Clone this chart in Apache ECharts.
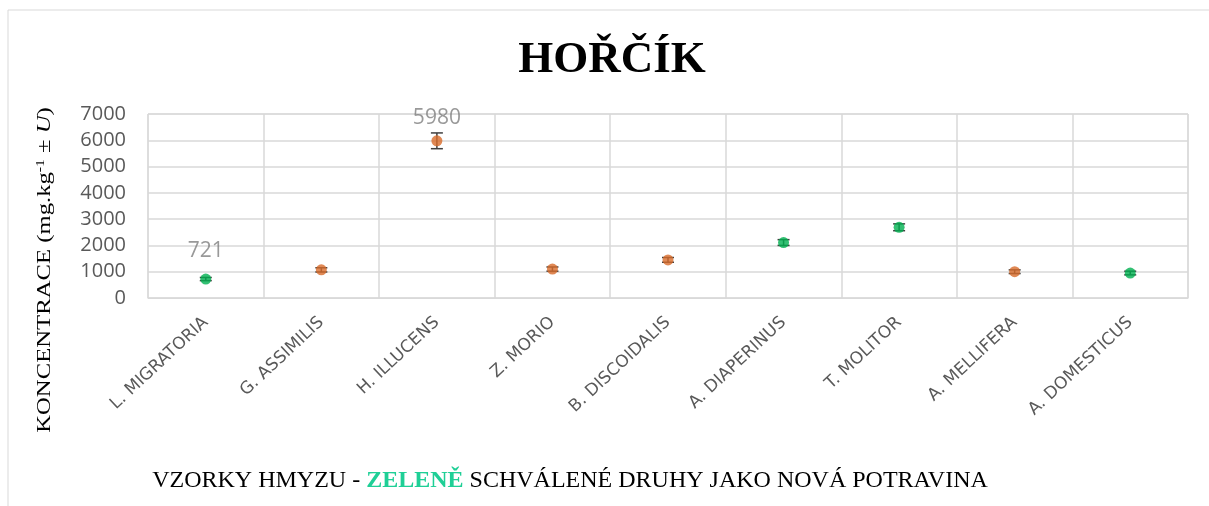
<!DOCTYPE html>
<html>
<head>
<meta charset="utf-8">
<script src="https://cdn.jsdelivr.net/npm/echarts@6/dist/echarts.min.js"></script>
<style>
  html, body { margin: 0; padding: 0; background: #fff; }
  #chart { width: 1209px; height: 506px; }
</style>
</head>
<body>
<div id="chart"></div>
<script>
// hodnoty
const categories = ["L. MIGRATORIA", "G. ASSIMILIS", "H. ILLUCENS", "Z. MORIO", "B. DISCOIDALIS",
  "A. DIAPERINUS", "T. MOLITOR", "A. MELLIFERA", "A. DOMESTICUS"];
const values = [721, 1070, 5980, 1100, 1450, 2110, 2690, 1000, 950];
const uncertainty = [60, 80, 300, 80, 90, 110, 130, 70, 70];
const approved = [true, false, false, false, false, true, true, false, true];
const labelled = [true, false, true, false, false, false, false, false, false];
const yTicks = [0, 1000, 2000, 3000, 4000, 5000, 6000, 7000];

const GREEN = "#00b050";
const ORANGE = "#d86c2a";
const SERIF = "'Liberation Serif', 'Times New Roman', serif";

const chart = echarts.init(document.getElementById("chart"));

const points = values.map((v, i) => ({
  value: [i, v],
  itemStyle: { color: approved[i] ? GREEN : ORANGE },
  label: {
    show: labelled[i],
    position: "top",
    distance: uncertainty[i] > 200 ? 7 : 12,
    color: "#7f7f7f",
    fontSize: 21,
    fontFamily: "Open Sans",
    formatter: String(v),
  },
}));

const bars = values.map((v, i) => [i, v - uncertainty[i], v + uncertainty[i]]);

chart.setOption({
  animation: false,
  grid: { left: 148, right: 21, top: 114, bottom: 208, show: true, borderColor: "#d9d9d9", borderWidth: 1 },
  xAxis: {
    type: "category",
    data: categories,
    boundaryGap: true,
    axisTick: { show: false },
    axisLine: { lineStyle: { color: "#d9d9d9" } },
    splitLine: { show: true, interval: 0, lineStyle: { color: "#d9d9d9", width: 1.5 } },
    axisLabel: {
      interval: 0,
      rotate: 43,
      margin: 22,
      color: "#595959",
      fontSize: 17,
      fontFamily: "DejaVu Sans",
    },
  },
  yAxis: {
    type: "value",
    min: 0,
    max: 7000,
    interval: 1000,
    axisLine: { show: false },
    axisTick: { show: false },
    splitLine: { lineStyle: { color: "#d9d9d9", width: 1.5 } },
    axisLabel: {
      color: "#595959",
      fontSize: 20,
      fontFamily: "Open Sans",
      margin: 22,
      formatter: (v) => (yTicks.includes(v) ? String(v) : ""),
    },
  },
  graphic: [
    { type: "rect", shape: { x: 8, y: 10, width: 1220, height: 520 },
      style: { fill: "none", stroke: "#d9d9d9", lineWidth: 1 }, silent: true },
    { type: "text", x: 612, y: 60,
      style: { text: "HOŘČÍK", fontSize: 45, fontWeight: "bold", fontFamily: SERIF, fill: "#000",
        align: "center", verticalAlign: "middle" } },
    { type: "text", x: 45, y: 270, rotation: Math.PI / 2, scaleX: 1.3,
      style: {
        text: "{n|KONCENTRACE (mg.kg}{s|-1}{n| ± }{i|U}{n|)}",
        align: "center", verticalAlign: "middle",
        rich: {
          n: { fontSize: 19, fontFamily: SERIF, fill: "#000" },
          s: { fontSize: 12, fontFamily: SERIF, fill: "#000", verticalAlign: "top", padding: [0, 0, 9, 0] },
          i: { fontSize: 19, fontStyle: "italic", fontFamily: SERIF, fill: "#000" },
        },
      } },
    { type: "text", x: 570, y: 481,
      style: {
        text: "{n|VZORKY HMYZU - }{g|ZELENĚ}{n| SCHVÁLENÉ DRUHY JAKO NOVÁ POTRAVINA}",
        align: "center", verticalAlign: "middle",
        rich: {
          n: { fontSize: 24, fontFamily: SERIF, fill: "#000" },
          g: { fontSize: 24, fontWeight: "bold", fontFamily: SERIF, fill: "#1fcf96" },
        },
      } },
  ],
  series: [
    {
      type: "custom",
      data: bars,
      z: 3,
      renderItem: (params, api) => {
        const x = api.value(0);
        const lo = api.coord([x, api.value(1)]);
        const hi = api.coord([x, api.value(2)]);
        const w = 6;
        const st = { stroke: "#404040", lineWidth: 1.5 };
        return {
          type: "group",
          children: [
            { type: "line", shape: { x1: lo[0], y1: lo[1], x2: hi[0], y2: hi[1] }, style: st },
            { type: "line", shape: { x1: lo[0] - w, y1: lo[1], x2: lo[0] + w, y2: lo[1] }, style: st },
            { type: "line", shape: { x1: hi[0] - w, y1: hi[1], x2: hi[0] + w, y2: hi[1] }, style: st },
          ],
        };
      },
    },
    {
      type: "scatter",
      data: points,
      symbolSize: 11,
      z: 4,
    },
  ],
});
</script>
</body>
</html>
